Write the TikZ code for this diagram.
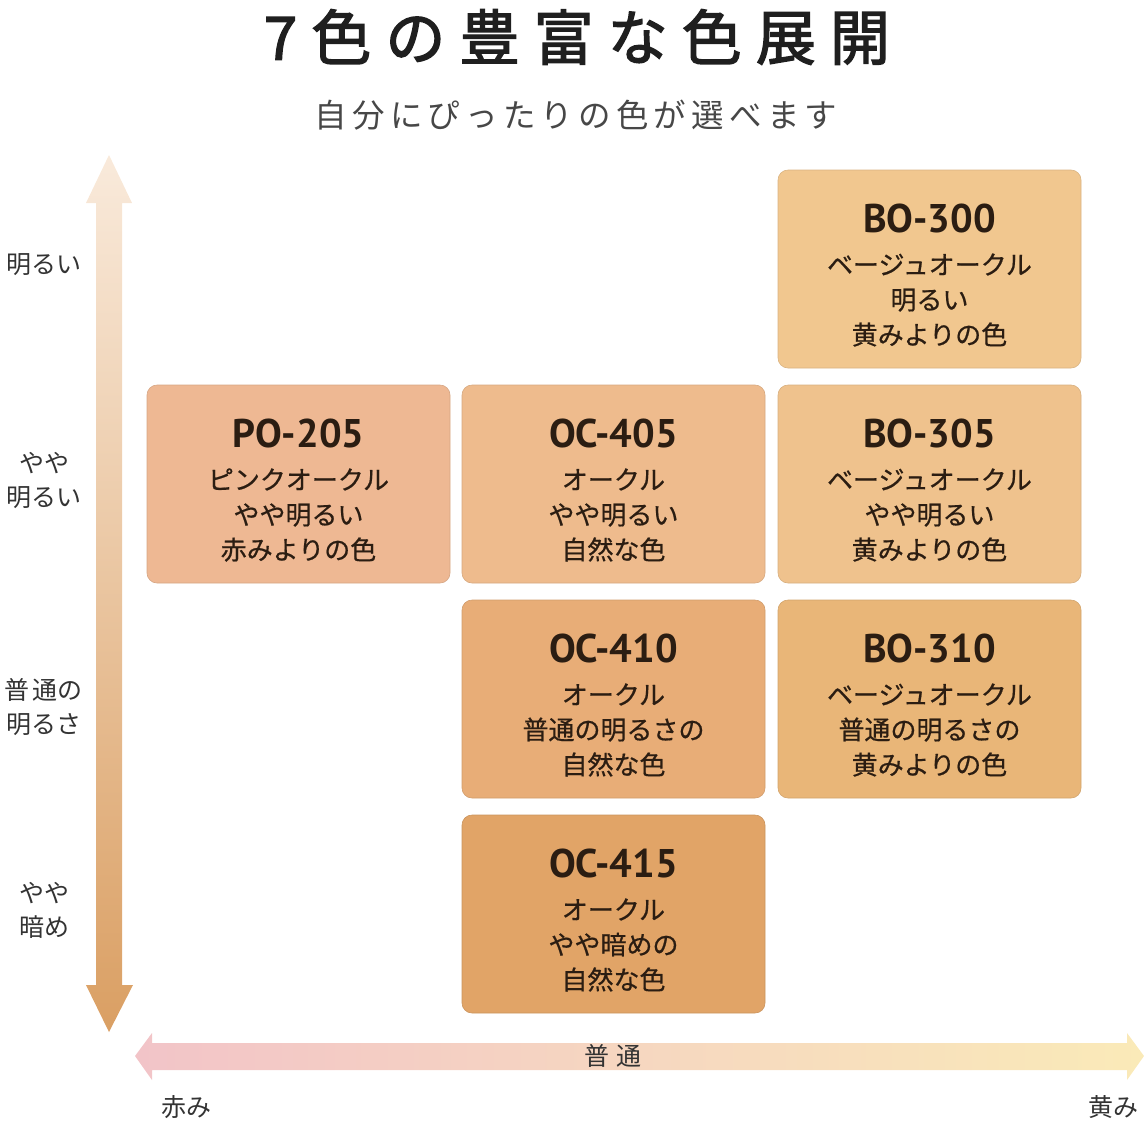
\documentclass[tikz,border=0pt]{standalone}
\usepackage{fontspec}
\setmainfont{Noto Sans CJK JP}
\newfontfamily\titlefont[LetterSpace=23.5,FakeBold=2.2]{Noto Sans CJK JP}
\newfontfamily\subfont[LetterSpace=16]{Noto Sans CJK JP}
\newfontfamily\axfont[LetterSpace=25]{Noto Sans CJK JP}
\newfontfamily\codefont{PT Sans Bold}
\newfontfamily\descfont[FakeBold=0.6]{Noto Sans CJK JP}
\definecolor{txt}{HTML}{2B1D12}
\definecolor{lab}{HTML}{333333}
\definecolor{c300}{HTML}{F1C78F}
\definecolor{c205}{HTML}{EEB893}
\definecolor{c405}{HTML}{EEBB8D}
\definecolor{c305}{HTML}{EFC28D}
\definecolor{c410}{HTML}{E8AD77}
\definecolor{c310}{HTML}{E9B678}
\definecolor{c415}{HTML}{E1A467}
\definecolor{vtop}{HTML}{F9EADB}
\definecolor{vbot}{HTML}{DA9F63}
\definecolor{hl}{HTML}{F2C4C8}
\definecolor{hm}{HTML}{F6DCC6}
\definecolor{hr}{HTML}{FAEAB8}
\tikzset{
  swbox/.style={rounded corners=10pt, minimum width=303pt, minimum height=198pt, inner sep=0pt, draw=#1!90!black, line width=0.6pt, fill=#1},
  codetxt/.style={inner sep=0pt, text=txt, font=\fontsize{40}{44}\selectfont\codefont},
  desctxt/.style={inner sep=0pt, text=txt, align=center, font=\fontsize{26}{35}\selectfont\descfont},
  sidelab/.style={inner sep=0pt, text=lab, align=center, font=\fontsize{25}{34}\selectfont},
}
\newcommand\swatch[6]{%
  \node[swbox=#4] (#1) at (#2,#3) {};
  \node[codetxt] (#1code) at ([yshift=51pt]#1.center) {#5};
  \node[desctxt] (#1desc) at ([yshift=-31pt]#1.center) {#6};
}
\begin{document}
\begin{tikzpicture}[x=1pt,y=-1pt]
\useasboundingbox (0,0) rectangle (1145,1122);
% title
\node[inner sep=0pt, text=black!88, font=\fontsize{60}{64}\selectfont\titlefont] (title) at (577,37) {7色の豊富な色展開};
\node[inner sep=0pt, text=black!72, font=\fontsize{32.5}{36}\selectfont\subfont] (subtitle) at (576,115) {自分にぴったりの色が選べます};
% vertical arrow
\shade[top color=vtop, bottom color=vbot]
  (96,203) -- (86,203) -- (109,155) -- (132,203) -- (122,203) -- (122,985) -- (133,985) -- (109,1032) -- (86,985) -- (96,985) -- cycle;
% horizontal arrow
\shade[left color=hl, middle color=hm, right color=hr]
  (152,1043) -- (152,1033) -- (135,1056) -- (152,1080) -- (152,1070) -- (1127,1070) -- (1127,1080) -- (1144,1056) -- (1127,1033) -- (1127,1043) -- cycle;
\node[inner sep=0pt, text=lab, font=\fontsize{25}{30}\selectfont\axfont] (normal) at (613,1056) {普通};
\node[sidelab] (red) at (186,1107) {赤み};
\node[sidelab] (yellow) at (1113,1107) {黄み};
% side labels
\node[sidelab] (l1) at (44,265) {明るい};
\node[sidelab] (l2) at (44,480) {やや\\明るい};
\node[sidelab] (l3) at (44,707) {普\hspace{3pt}通の\\明るさ};
\node[sidelab] (l4) at (44,910) {やや\\暗め};
% swatches
\swatch{bo300}{929.5}{269}{c300}{BO-300}{ベージュオークル\\明るい\\黄みよりの色}
\swatch{po205}{298.5}{484}{c205}{PO-205}{ピンクオークル\\やや明るい\\赤みよりの色}
\swatch{oc405}{613.5}{484}{c405}{OC-405}{オークル\\やや明るい\\自然な色}
\swatch{bo305}{929.5}{484}{c305}{BO-305}{ベージュオークル\\やや明るい\\黄みよりの色}
\swatch{oc410}{613.5}{699}{c410}{OC-410}{オークル\\普通の明るさの\\自然な色}
\swatch{bo310}{929.5}{699}{c310}{BO-310}{ベージュオークル\\普通の明るさの\\黄みよりの色}
\swatch{oc415}{613.5}{914}{c415}{OC-415}{オークル\\やや暗めの\\自然な色}
\end{tikzpicture}
\end{document}
